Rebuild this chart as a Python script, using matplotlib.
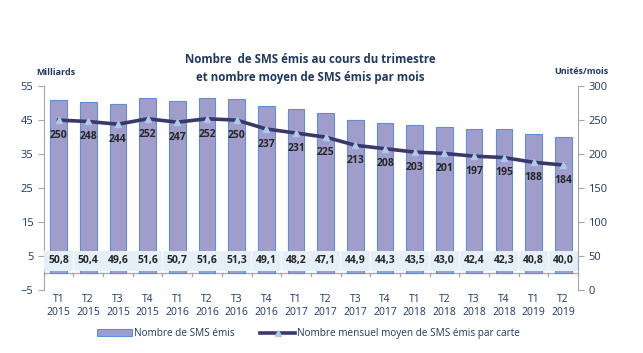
import matplotlib.pyplot as plt
import numpy as np

plt.rcParams['font.family'] = ['Open Sans', 'DejaVu Sans']

# Données
trimestres = ["T1\n2015", "T2\n2015", "T3\n2015", "T4\n2015",
              "T1\n2016", "T2\n2016", "T3\n2016", "T4\n2016",
              "T1\n2017", "T2\n2017", "T3\n2017", "T4\n2017",
              "T1\n2018", "T2\n2018", "T3\n2018", "T4\n2018",
              "T1\n2019", "T2\n2019"]
sms_emis = [50.8, 50.4, 49.6, 51.6, 50.7, 51.6, 51.3, 49.1, 48.2, 47.1,
            44.9, 44.3, 43.5, 43.0, 42.4, 42.3, 40.8, 40.0]
sms_par_carte = [250, 248, 244, 252, 247, 252, 250, 237, 231, 225,
                 213, 208, 203, 201, 197, 195, 188, 184]

x = np.arange(len(trimestres))
txt_col = '#1f3864'
axis_col = '#a6a6a6'

fig = plt.figure(figsize=(6.43, 3.53), dpi=100)
ax = fig.add_axes([0.068, 0.178, 0.831, 0.578])
ax2 = ax.twinx()

bars = ax.bar(x, sms_emis, width=0.56, color='#a19dcb', edgecolor='#5b8fd9',
              linewidth=0.8, label='Nombre de SMS émis', zorder=2)
ax.set_xlim(-0.5, len(x) - 0.5)
ax.set_ylim(-5, 55)
ax.set_yticks(np.arange(-5, 56, 10))
ax.axhline(0, color=axis_col, lw=0.9, zorder=1)
for b in np.arange(-0.5, len(x), 1):
    ax.plot([b, b], [0, -0.9], color=axis_col, lw=0.9, clip_on=False)

# étiquettes des barres
for xi, v in zip(x, sms_emis):
    ax.text(xi, 3.6, f"{v:.1f}".replace('.', ','), ha='center', va='center',
            fontsize=7.5, fontweight='bold', color='#262626', zorder=4,
            bbox=dict(boxstyle='square,pad=0.4', fc='#e4eff7', ec='none'))

ax.set_xticks(x)
ax.set_xticklabels(trimestres, fontsize=7.5, color=txt_col, linespacing=1.15)
ax.tick_params(axis='x', length=0, pad=3)

line, = ax2.plot(x, sms_par_carte, color='#3a386b', lw=2.6, marker='^',
                 markersize=5, markerfacecolor='#a9cbe9', markeredgecolor='#a9cbe9',
                 label='Nombre mensuel moyen de SMS émis par carte', zorder=3)
ax2.set_ylim(0, 300)
ax2.set_yticks(np.arange(0, 301, 50))
for xi, v in zip(x, sms_par_carte):
    ax2.annotate(str(v), (xi, v), xytext=(0, -11), textcoords='offset points',
                 ha='center', va='center', fontsize=7.5, fontweight='bold',
                 color='#262626')

for a in (ax, ax2):
    for s in a.spines.values():
        s.set_visible(False)
    a.tick_params(axis='y', colors=axis_col, labelcolor=txt_col, labelsize=8, length=4)
ax.spines['left'].set_visible(True)
ax.spines['left'].set_color(axis_col)
ax2.spines['right'].set_visible(True)
ax2.spines['right'].set_color(axis_col)

fig.text(0.483, 0.805, "Nombre  de SMS émis au cours du trimestre\net nombre moyen de SMS émis par mois",
         ha='center', va='center', fontsize=8.3, fontweight='bold', color=txt_col,
         linespacing=1.5)
fig.text(0.056, 0.795, "Milliards", fontsize=6.5, fontweight='bold', color=txt_col,
         ha='left', va='center')
fig.text(0.862, 0.797, "Unités/mois", fontsize=6.5, fontweight='bold', color=txt_col,
         ha='left', va='center')

fig.legend([bars, line], ['Nombre de SMS émis', 'Nombre mensuel moyen de SMS émis par carte'],
           loc='center', bbox_to_anchor=(0.48, 0.055), ncol=2, frameon=False,
           fontsize=7.2, labelcolor=txt_col, handlelength=3.5, handletextpad=0.2,
           columnspacing=2.5)

fig.savefig('out.png', dpi=100)
